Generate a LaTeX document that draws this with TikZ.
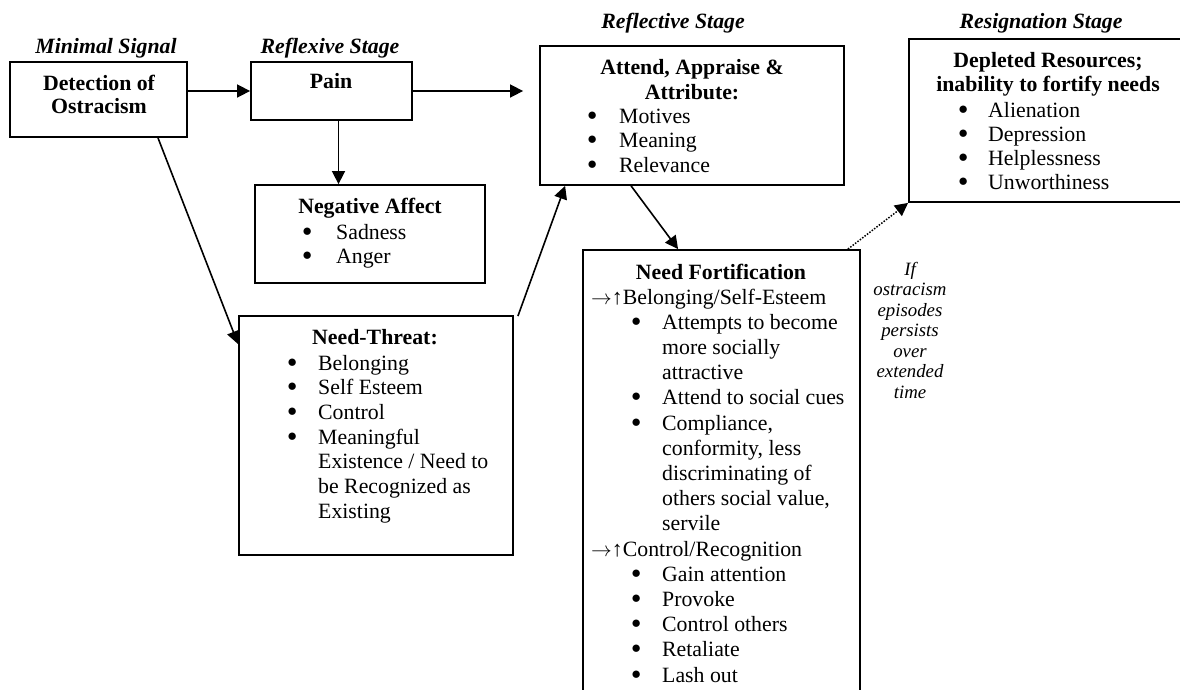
\documentclass[tikz,border=0pt]{standalone}
\usepackage{fontspec}
\setmainfont{Liberation Serif}
\usetikzlibrary{arrows.meta,fit,calc}

% top-aligned tabular: its baseline is the baseline of the first row
\newcommand{\tb}[2]{\begin{tabular}[t]{@{}#1@{}}#2\end{tabular}}
% round bullet set in a box of the given width (hanging indent)
\newcommand{\bl}[1]{\makebox[#1][l]{\raisebox{3pt}{\fontsize{17}{17}\selectfont ●}}}
% main text size with a chosen line pitch
\newcommand{\txtsize}[1]{\fontsize{21.8}{#1}\selectfont}
% "leads to an increase in" marker
\newcommand{\incr}{$\rightarrow$↑}

\begin{document}
\begin{tikzpicture}[x=1pt,y=-1pt,
  box/.style={draw, line width=1.8pt, inner sep=0pt},
  txt/.style={inner sep=0pt, text=black},
  stage/.style={txt, anchor=base, font=\txtsize{25}\bfseries\itshape},
  head/.style={txt, anchor=base, font=\txtsize{#1}\bfseries},
  items/.style={txt, anchor=base west, font=\txtsize{#1}},
  conn/.style={line width=1.6pt, -{Triangle[length=13pt,width=13pt]}},
  weak/.style={conn, line width=1.5pt, dash pattern=on 1.5pt off 1.5pt}]

\useasboundingbox (0,0) rectangle (1180,689);
\fill[white] (0,0) rectangle (1180,689);
\clip (0,0) rectangle (1180,689);

% ---------- boxes ----------
\node[box, fit={(10,62)(187,137)}]   (det)  {};
\node[box, fit={(251,62)(412,120)}]  (pain) {};
\node[box, fit={(540,46)(844,185)}]  (refl) {};
\node[box, fit={(909,39)(1200,202)}] (res)  {};
\node[box, fit={(255,185)(485,283)}] (neg)  {};
\node[box, fit={(239,316)(513,555)}] (thr)  {};
\node[box, fit={(583,250)(860,720)}] (fort) {};

% ---------- stage titles ----------
\node[stage] (tMin)  at (106,53)  {Minimal Signal};
\node[stage] (tRfx)  at (330,53)  {Reflexive Stage};
\node[stage] (tRfl)  at (673,28)  {Reflective Stage};
\node[stage] (tRes)  at (1041,28) {Resignation Stage};

% ---------- box contents ----------
\node[head=23] (hDet) at (99,90) {\tb{c}{Detection of\\Ostracism}};
\node[head=25] (hPain) at (331,88) {Pain};

\node[head=25] (hRfl) at (692,74) {\tb{c}{Attend, Appraise \&\\Attribute:}};
\node[items=24.5] (lRfl) at (587,123)
  {\tb{l}{\bl{32pt}Motives\\\bl{32pt}Meaning\\\bl{32pt}Relevance}};

\node[head=24] (hRes) at (1048,67) {\tb{c}{Depleted Resources;\\inability to fortify needs}};
\node[items=24.3] (lRes) at (958,117)
  {\tb{l}{\bl{30pt}Alienation\\\bl{30pt}Depression\\\bl{30pt}Helplessness\\\bl{30pt}Unworthiness}};

\node[head=25] (hNeg) at (370,213) {Negative Affect};
\node[items=24.5] (lNeg) at (302,239)
  {\tb{l}{\bl{34pt}Sadness\\\bl{34pt}Anger}};

\node[head=25] (hThr) at (375,344) {Need-Threat:};
\node[items=24.7] (lThr) at (287,370)
  {\tb{l}{\bl{31pt}Belonging\\
          \bl{31pt}Self Esteem\\
          \bl{31pt}Control\\
          \bl{31pt}Meaningful\\
          \hspace*{31pt}Existence / Need to\\
          \hspace*{31pt}be Recognized as\\
          \hspace*{31pt}Existing}};

\node[head=25] (hFort) at (721,279) {Need Fortification};
\node[items=25.2] (lFort) at (591,304)
  {\tb{l}{\incr Belonging/Self-Esteem\\
          \hspace*{40pt}\bl{31pt}Attempts to become\\
          \hspace*{71pt}more socially\\
          \hspace*{71pt}attractive\\
          \hspace*{40pt}\bl{31pt}Attend to social cues\\
          \hspace*{40pt}\bl{31pt}Compliance,\\
          \hspace*{71pt}conformity, less\\
          \hspace*{71pt}discriminating of\\
          \hspace*{71pt}others social value,\\
          \hspace*{71pt}servile\\
          \incr Control/Recognition\\
          \hspace*{40pt}\bl{31pt}Gain attention\\
          \hspace*{40pt}\bl{31pt}Provoke\\
          \hspace*{40pt}\bl{31pt}Control others\\
          \hspace*{40pt}\bl{31pt}Retaliate\\
          \hspace*{40pt}\bl{31pt}Lash out}};

\node[txt, anchor=base, font=\fontsize{18.8}{20.5}\selectfont\itshape] (cond) at (910,275)
  {\tb{c}{If\\ostracism\\episodes\\persists\\over\\extended\\time}};

% ---------- connectors ----------
\coordinate (painOut) at ($(pain.south)+(7,0)$);
\coordinate (detOut)  at ($(det.south)+(59.5,0)$);
\coordinate (thrIn)   at ($(thr.north west)+(0,29)$);
\coordinate (thrOut)  at ($(thr.north east)+(4,1)$);
\coordinate (reflIn)  at ($(refl.south west)+(26,0)$);
\coordinate (reflOut) at ($(refl.south west)+(92,0)$);
\coordinate (fortIn)  at ($(fort.north west)+(96,0)$);
\coordinate (fortOut) at ($(fort.north east)+(-13,0)$);

\draw[conn] (pain.west -| det.east) -- (pain.west);
\draw[conn, shorten >=16pt] (pain.east) -- (pain.east -| refl.west);
\draw[conn] (painOut) -- (painOut |- neg.north);
\draw[conn] (detOut) -- (thrIn);
\draw[conn] (thrOut) -- (reflIn);
\draw[conn] (reflOut) -- (fortIn);
\draw[weak] (fortOut) -- (res.south west);

\end{tikzpicture}
\end{document}
